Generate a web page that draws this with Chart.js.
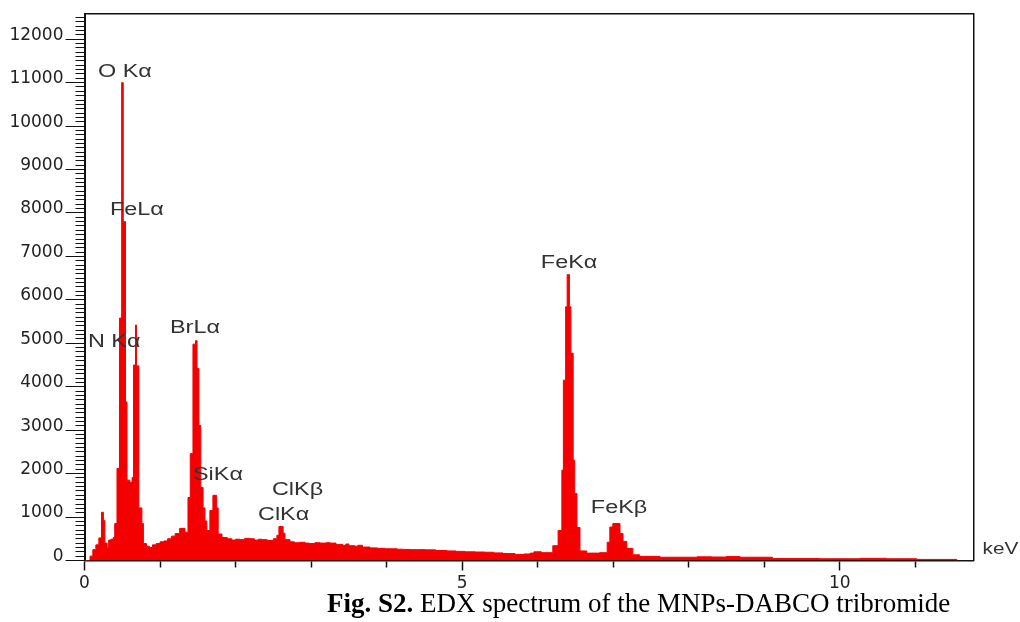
<!DOCTYPE html>
<html>
<head>
<meta charset="utf-8">
<script src="https://cdn.jsdelivr.net/npm/chart.js@4.4.1/dist/chart.umd.min.js"></script>
<style>
  html, body { margin: 0; padding: 0; background: #fff; }
  #wrap { position: relative; width: 1020px; height: 622px; }
  #caption {
    position: absolute; left: 327px; top: 588px;
    font-family: "Liberation Serif", "Times New Roman", serif;
    font-size: 27px; line-height: 30px; color: #000; white-space: nowrap;
  }
</style>
</head>
<body>
<div id="wrap">
  <canvas id="edx" width="1020" height="622"></canvas>
  <div id="caption"><b>Fig. S2.</b> EDX spectrum of the MNPs-DABCO tribromide</div>
</div>
<script>
// spectrum: each energy is where a step starts, counts hold until the next one
const energyKeV = [
  0.000, 0.073, 0.110, 0.150, 0.190, 0.225, 0.250, 0.270, 0.300, 0.320,
  0.350, 0.380, 0.400, 0.430, 0.463, 0.492, 0.513, 0.543, 0.563, 0.600,
  0.630, 0.649, 0.675, 0.688, 0.720, 0.760, 0.780, 0.820, 0.860, 0.900,
  0.950, 1.000, 1.050, 1.100, 1.150, 1.200, 1.260, 1.330, 1.370, 1.400,
  1.436, 1.470, 1.490, 1.515, 1.540, 1.570, 1.595, 1.620, 1.660, 1.700,
  1.750, 1.770, 1.820, 1.890, 1.950, 2.000, 2.060, 2.120, 2.190, 2.250,
  2.300, 2.350, 2.420, 2.500, 2.547, 2.574, 2.630, 2.654, 2.720, 2.780,
  2.850, 2.920, 2.980, 3.050, 3.120, 3.200, 3.250, 3.330, 3.420, 3.460,
  3.500, 3.580, 3.620, 3.680, 3.780, 3.880, 3.980, 4.060, 4.140, 4.220,
  4.310, 4.410, 4.510, 4.650, 4.800, 4.920, 5.040, 5.170, 5.300, 5.420,
  5.540, 5.700, 5.820, 5.900, 5.950, 6.050, 6.200, 6.270, 6.320, 6.340,
  6.370, 6.390, 6.420, 6.440, 6.470, 6.490, 6.520, 6.560, 6.650, 6.820,
  6.920, 6.955, 6.995, 7.090, 7.130, 7.180, 7.260, 7.350, 7.620, 8.110,
  8.300, 8.500, 8.680, 9.110, 9.730, 10.270, 10.620, 11.020, 11.550
];
const counts = [
  0, 100, 250, 360, 520, 1110, 920, 400, 300, 470,
  490, 530, 850, 2120, 5580, 11000, 7800, 3650, 1850, 1800,
  1910, 4500, 5420, 4480, 1210, 850, 390, 330, 300, 360,
  390, 430, 450, 500, 560, 620, 740, 650, 1450, 2460,
  4980, 5060, 4420, 3110, 1680, 1210, 910, 690, 1150, 1500,
  1210, 610, 530, 500, 470, 490, 480, 510, 500, 470,
  490, 480, 460, 500, 580, 780, 630, 480, 430, 410,
  420, 400, 390, 410, 400, 410, 400, 370, 350, 380,
  340, 330, 350, 310, 290, 280, 270, 270, 260, 255,
  250, 250, 245, 230, 220, 210, 200, 195, 190, 175,
  160, 140, 150, 170, 200, 180, 340, 690, 2080, 4150,
  5840, 6580, 5840, 4770, 2310, 1540, 760, 220, 170, 180,
  420, 770, 850, 620, 440, 280, 130, 95, 75, 85,
  80, 90, 75, 45, 40, 50, 40, 25, 0
];

const xLabelled = [0, 5, 10];
const yLabelStep = 1000;

const peakNames = ['O Kα', 'FeLα', 'N Kα', 'BrLα', 'SiKα', 'ClKβ', 'ClKα', 'FeKα', 'FeKβ'];
const peakLabelKeV = [0.179, 0.338, 0.046, 1.132, 1.436, 2.482, 2.297, 6.042, 6.704];
const peakLabelCounts = [11248, 8068, 5038, 5353, 1969, 1623, 1048, 6850, 1209];

// peak names + unit, drawn over the spectrum, slightly stretched like the original
const peakLabels = {
  id: 'peakLabels',
  afterDatasetsDraw(chart) {
    const { ctx, chartArea, scales: { x, y } } = chart;
    ctx.save();
    ctx.font = '18px "Liberation Sans", Arial, sans-serif';
    ctx.fillStyle = '#333';
    ctx.textBaseline = 'middle';
    peakNames.forEach((name, i) => {
      ctx.save();
      ctx.translate(x.getPixelForValue(peakLabelKeV[i]), y.getPixelForValue(peakLabelCounts[i]));
      ctx.scale(1.3, 1);
      ctx.fillText(name, 0, 0);
      ctx.restore();
    });
    ctx.font = '16px "Liberation Sans", Arial, sans-serif';
    ctx.translate(chartArea.right + 9, y.getPixelForValue(0) - 11);
    ctx.scale(1.3, 1);
    ctx.fillText('keV', 0, 0);
    ctx.restore();
  }
};

const tickFont = { family: 'DejaVu Sans', size: 17 };

new Chart(document.getElementById('edx'), {
  type: 'line',
  data: {
    datasets: [{
      data: energyKeV.map((e, i) => ({ x: e, y: counts[i] })),
      stepped: true,
      fill: 'origin',
      backgroundColor: 'rgb(245,0,0)',
      borderColor: 'rgb(245,0,0)',
      borderWidth: 1,
      pointRadius: 0,
    }],
  },
  options: {
    responsive: false,
    animation: false,
    layout: { padding: { top: 14, right: 46.5, left: 0, bottom: 0 } },
    plugins: { legend: { display: false }, tooltip: { enabled: false } },
    scales: {
      x: {
        type: 'linear', min: 0, max: 11.77,
        ticks: {
          stepSize: 1, autoSkip: false, includeBounds: false, maxRotation: 0,
          padding: 3, font: tickFont, color: '#222',
          callback: v => xLabelled.includes(v) ? String(v) : '',
        },
        grid: {
          drawOnChartArea: false, tickLength: 10, tickColor: '#111', tickWidth: 1.5,
          tickBorderDash: c => (c.tick && xLabelled.includes(c.tick.value)) ? [] : [6, 10],
        },
        border: { color: '#111', width: 1.5 },
        afterFit: s => { s.height = 61.5; },
      },
      y: {
        min: 0, max: 12580,
        ticks: {
          stepSize: 100, autoSkip: false, includeBounds: false,
          padding: 2, labelOffset: -4, font: tickFont, color: '#222',
          callback: v => v % yLabelStep === 0 ? String(v) : '',
        },
        grid: {
          drawOnChartArea: false, tickLength: 19, tickColor: '#111', tickWidth: 1,
          tickBorderDash: c => (c.tick && c.tick.value % yLabelStep === 0) ? [] : [9, 10],
          tickBorderDashOffset: 9,
        },
        border: { color: '#111', width: 2 },
        afterFit: s => { s.width = 84.5; },
      },
      // frame on top and right
      xTop: {
        type: 'linear', position: 'top', min: 0, max: 1,
        ticks: { display: false }, grid: { drawOnChartArea: false, drawTicks: false },
        border: { color: '#111', width: 1.5 },
        afterFit: s => { s.height = 0; },
      },
      yRight: {
        type: 'linear', position: 'right', min: 0, max: 1,
        ticks: { display: false }, grid: { drawOnChartArea: false, drawTicks: false },
        border: { color: '#111', width: 1.5 },
        afterFit: s => { s.width = 0; },
      },
    },
  },
  plugins: [peakLabels],
});
</script>
</body>
</html>
